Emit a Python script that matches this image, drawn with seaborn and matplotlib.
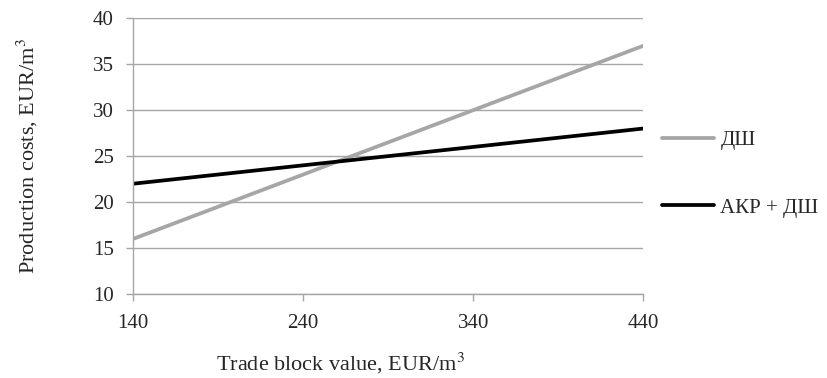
import matplotlib
matplotlib.use("Agg")
import matplotlib.pyplot as plt
import seaborn as sns
import pandas as pd

# data
block_value = [140, 440]
dsh_costs = [16, 37]
akr_dsh_costs = [22, 28]
series_names = ["ДШ", "АКР + ДШ"]
x_ticks = [140, 240, 340, 440]
y_ticks = [10, 15, 20, 25, 30, 35, 40]

df = pd.DataFrame({
    "value": block_value * 2,
    "cost": dsh_costs + akr_dsh_costs,
    "series": [series_names[0]] * 2 + [series_names[1]] * 2,
})

sns.set_style("white")
plt.rcParams["font.family"] = ["Liberation Serif", "DejaVu Serif"]
plt.rcParams["mathtext.fontset"] = "stix"

fig = plt.figure(figsize=(8.27, 3.78), dpi=100)
ax = fig.add_axes([0.161, 0.222, 0.617, 0.73])

sns.lineplot(data=df, x="value", y="cost", hue="series",
             palette={series_names[0]: "#a6a6a6", series_names[1]: "#000000"},
             linewidth=2.7, ax=ax)

ax.set_xlim(140, 440)
ax.set_ylim(10, 40)
ax.set_xticks(x_ticks)
ax.set_yticks(y_ticks)
ax.yaxis.grid(True, color="#a6a6a6", linewidth=1)
ax.set_axisbelow(True)

for side in ["top", "right"]:
    ax.spines[side].set_visible(False)
for side in ["left", "bottom"]:
    ax.spines[side].set_color("#a6a6a6")
    ax.spines[side].set_linewidth(1)

ax.tick_params(axis="both", direction="out", length=5, width=1, color="#a6a6a6",
               labelsize=15, bottom=True, left=True)
ax.tick_params(axis="x", pad=9)
ax.tick_params(axis="y", pad=9)

ax.set_xlabel("Trade block value, EUR/m$^3$", fontsize=16)
ax.xaxis.set_label_coords(0.406, -0.205)
ax.set_ylabel("Production costs, EUR/m$^3$", fontsize=16, labelpad=38)

ax.legend(loc="center left", bbox_to_anchor=(1.0, 0.435), frameon=False,
          fontsize=15, handlelength=2.5, handletextpad=0.3, labelspacing=2.3)

fig.savefig("out.png", dpi=100)
